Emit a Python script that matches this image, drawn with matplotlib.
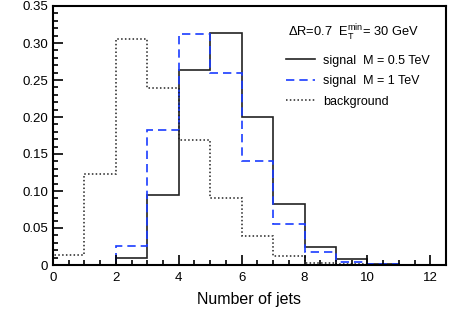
import matplotlib
matplotlib.use("Agg")
import matplotlib.pyplot as plt
import numpy as np
from matplotlib.ticker import MultipleLocator

plt.rcParams['font.family'] = ['Liberation Sans', 'DejaVu Sans']
plt.rcParams['mathtext.fontset'] = 'custom'
plt.rcParams['mathtext.rm'] = 'Liberation Sans'
plt.rcParams['mathtext.it'] = 'Liberation Sans'

binEdges = np.arange(0, 13)
signal05 = [0, 0, 0.010, 0.095, 0.263, 0.314, 0.200, 0.083, 0.025, 0.0075, 0.001, 0]
signal1 = [0, 0, 0.026, 0.182, 0.312, 0.260, 0.140, 0.055, 0.017, 0.004, 0.001, 0.0005]
background = [0.013, 0.123, 0.305, 0.239, 0.169, 0.091, 0.039, 0.0125, 0.003, 0.001, 0, 0]

fig = plt.figure(figsize=(4.52, 3.19), dpi=100)
ax = fig.add_axes([53 / 452, 1 - 265 / 319, 393 / 452, 259 / 319])

ax.stairs(signal05, binEdges, color='#222222', lw=1.2, label='signal  M = 0.5 TeV')
ax.stairs(signal1, binEdges, color='#1a3cff', lw=1.2, ls=(0, (5, 3)), label='signal  M = 1 TeV')
ax.stairs(background, binEdges, color='#222222', lw=1.1, ls=(0, (1, 1.5)), label='background')

ax.set_xlim(0, 12.5)
ax.set_ylim(0, 0.35)
ax.xaxis.set_major_locator(MultipleLocator(2))
ax.xaxis.set_minor_locator(MultipleLocator(0.5))
ax.yaxis.set_minor_locator(MultipleLocator(0.01))
ax.set_yticks(np.arange(0, 0.36, 0.05))
ax.set_yticklabels(['0'] + ['%.2f' % v for v in np.arange(0.05, 0.36, 0.05)])
ax.tick_params(which='both', direction='in', labelsize=9.5, width=1.2)
ax.tick_params(which='major', length=7)
ax.tick_params(which='minor', length=3.5)
ax.tick_params(axis='x', pad=5)
for s in ax.spines.values():
    s.set_linewidth(1.5)

ax.set_xlabel('Number of jets', fontsize=11.5, labelpad=6)

ax.text(235 / 393, 0.895, r'$\Delta$R=0.7  E$_\mathrm{T}^\mathrm{min}$= 30 GeV',
        transform=ax.transAxes, fontsize=9.3, va='center')
ax.legend(loc='upper left', bbox_to_anchor=(0.58, 0.832), frameon=False,
          fontsize=9, handlelength=2.3, handletextpad=0.7, labelspacing=0.68,
          borderaxespad=0)

fig.savefig('out.png', dpi=100)
